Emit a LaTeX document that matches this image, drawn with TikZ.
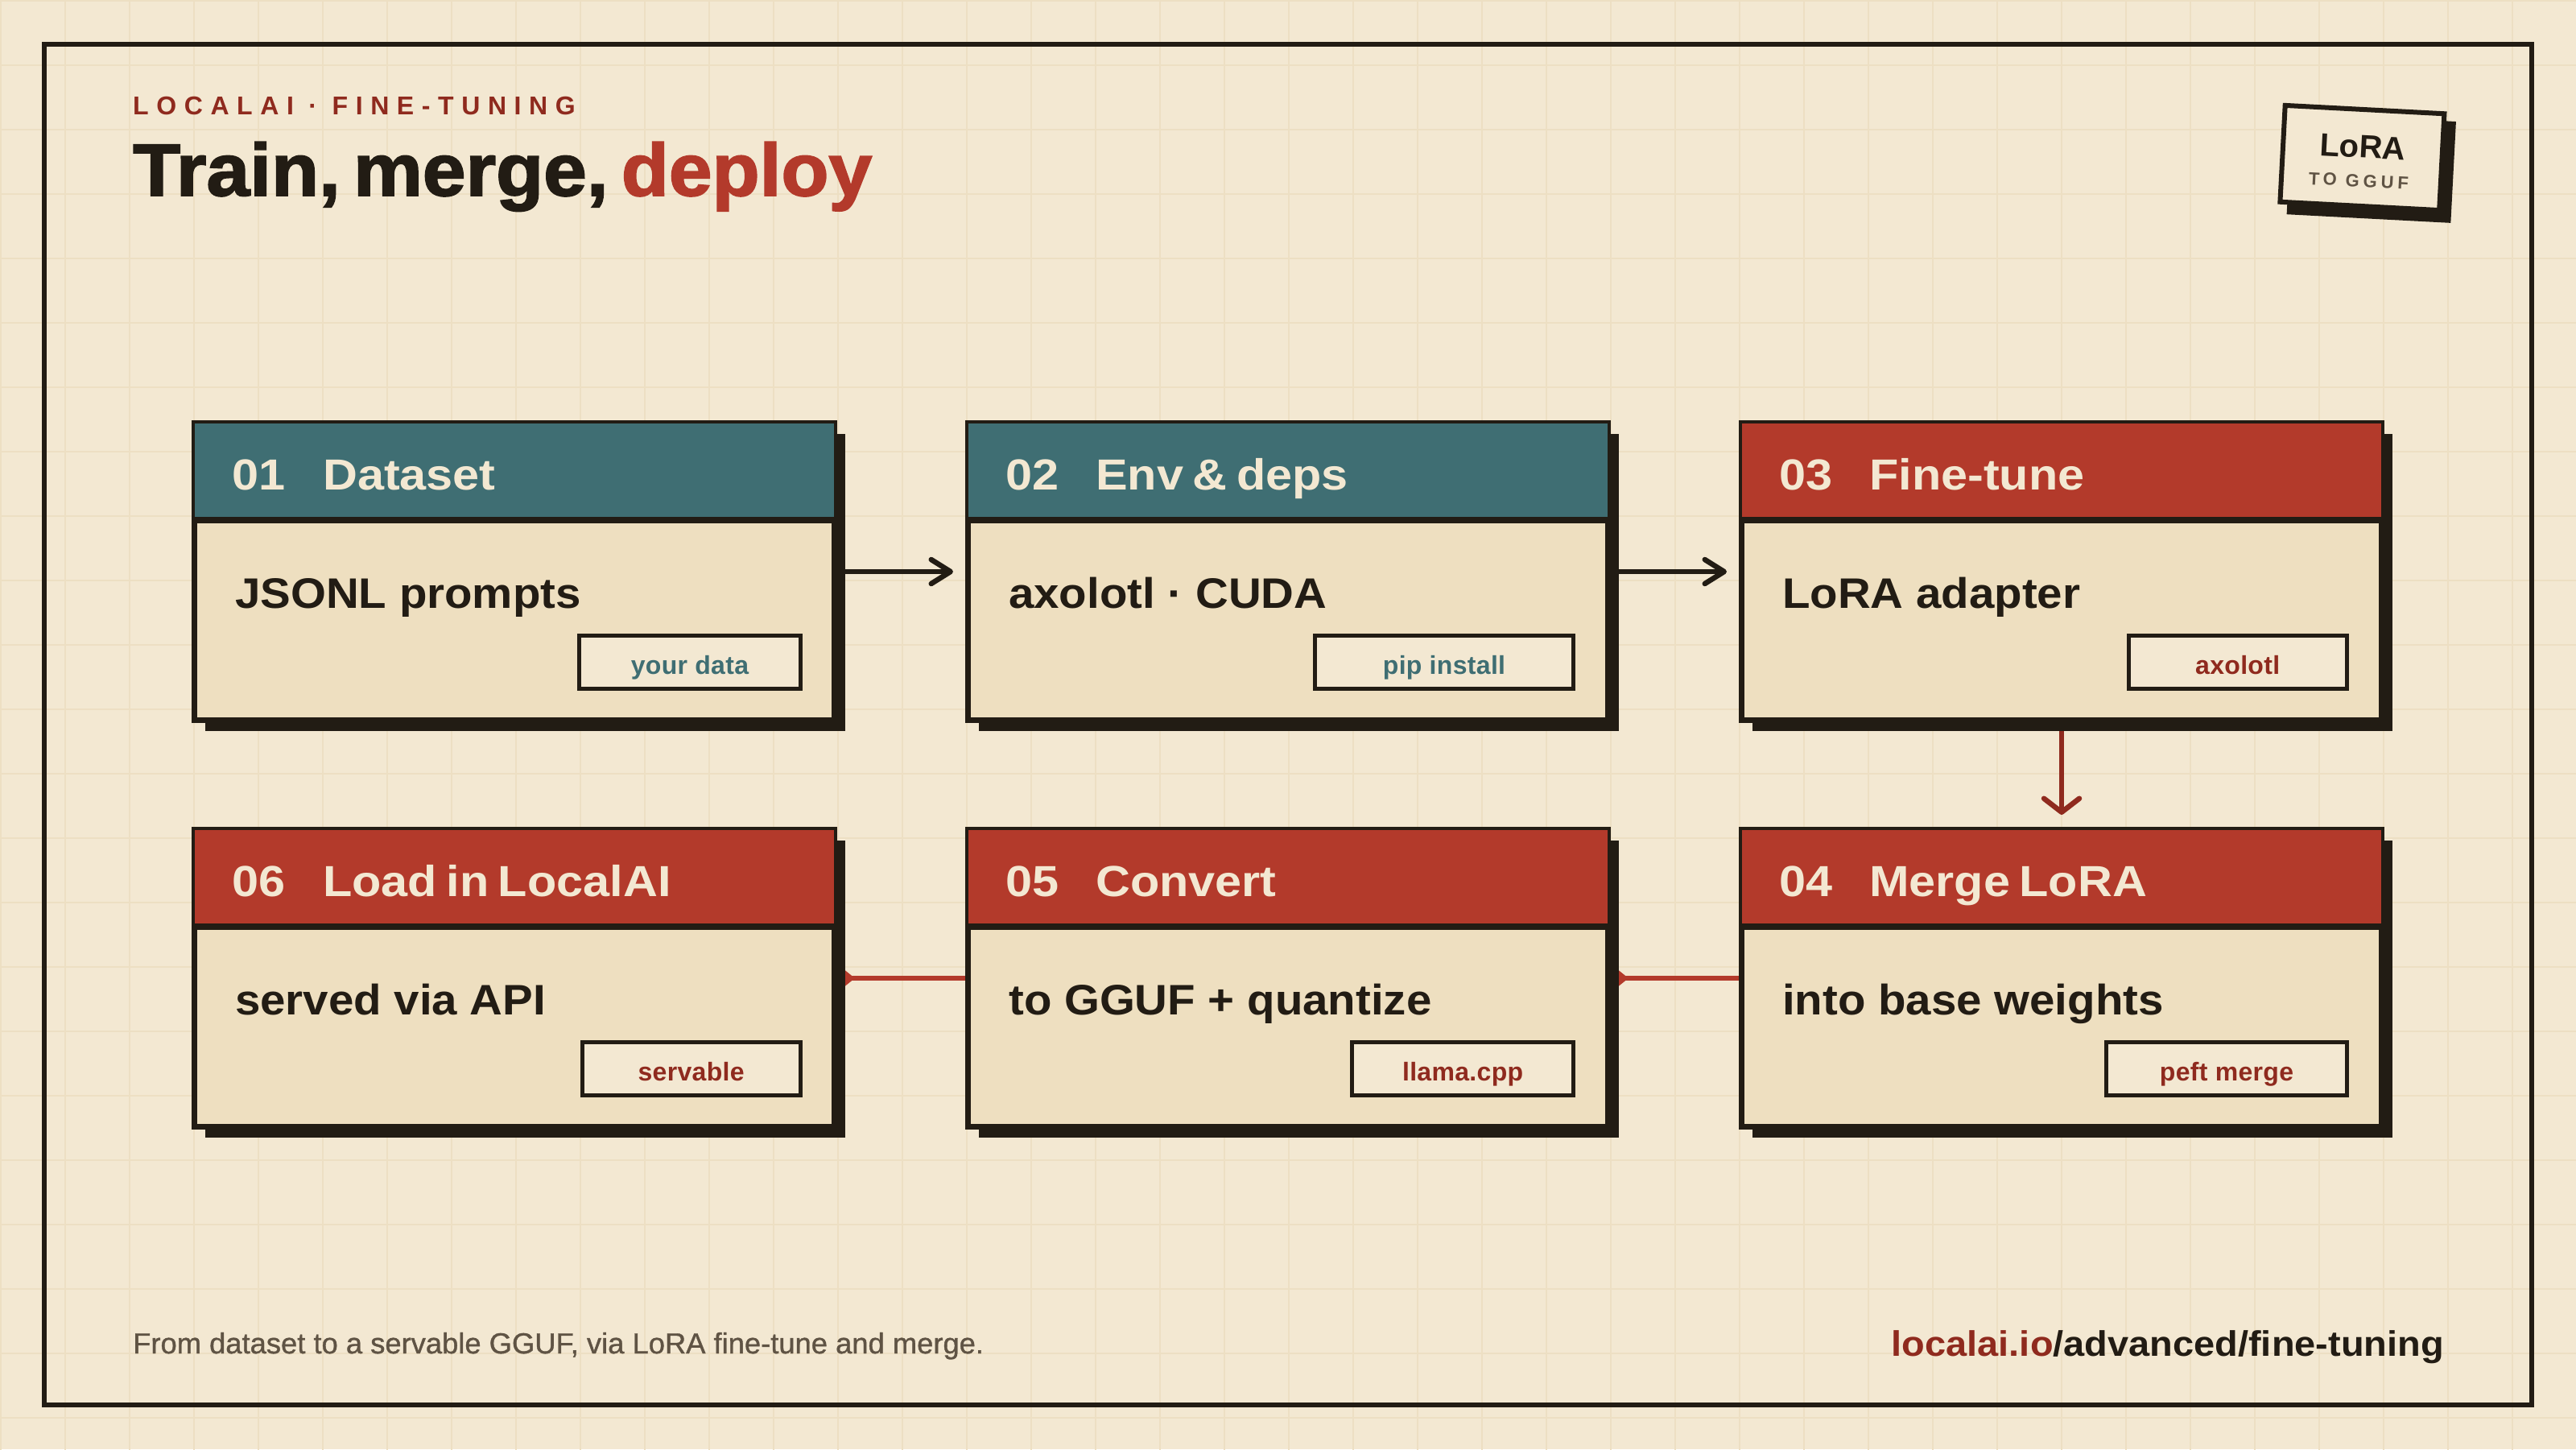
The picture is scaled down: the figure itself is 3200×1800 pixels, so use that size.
\documentclass[tikz,border=0pt]{standalone}
\usepackage{fontspec}
\setmainfont{Liberation Sans}
\newfontfamily\titlefont[FakeStretch=1.05,WordSpace=0.6,BoldFeatures={FakeBold=2}]{Liberation Sans}
\newfontfamily\kickerfont[LetterSpace=30]{Liberation Sans}
\newfontfamily\headfont[FakeStretch=1.1,WordSpace=0.7]{Liberation Sans}
\newfontfamily\bodyfont[FakeStretch=1.065]{Liberation Sans}
\newfontfamily\tagfont[LetterSpace=1]{Liberation Sans}
\newfontfamily\stampfont[LetterSpace=22]{Liberation Sans}
\newfontfamily\notefont[FakeBold=1,FakeStretch=1.01]{Liberation Sans}
\newfontfamily\linkfont[FakeStretch=1.067]{Liberation Sans}
\usetikzlibrary{arrows.meta}
\usetikzlibrary{backgrounds}

\definecolor{paper}{HTML}{F3E8D2}
\definecolor{gridtan}{HTML}{EDDFC3}
\definecolor{panel}{HTML}{EEDFC0}
\definecolor{ink}{HTML}{221C14}
\definecolor{teal}{HTML}{3F6E73}
\definecolor{brick}{HTML}{B33A2B}
\definecolor{oxblood}{HTML}{8F2A1E}
\definecolor{umber}{HTML}{5F5344}

\tikzset{
  txt/.style={inner sep=0pt, anchor=base west},
  shadow/.style={fill=ink, inner sep=0pt, outer sep=0pt, anchor=north west, minimum width=795pt, minimum height=369pt},
  card/.style={draw=ink, fill=panel, line width=7pt, inner sep=0pt, anchor=north west, minimum width=795pt, minimum height=369pt},
  head/.style={draw=ink, line width=4pt, inner sep=0pt, outer sep=0pt, anchor=north west, minimum width=798pt, minimum height=122pt},
  headrule/.style={ink, line width=8pt},
  headtxt/.style={txt, text=paper, font=\headfont\bfseries\fontsize{54}{60}\selectfont},
  bodytxt/.style={txt, text=ink, font=\bodyfont\bfseries\fontsize{53}{60}\selectfont},
  tag/.style={draw=ink, fill=paper, line width=5pt, inner sep=0pt, anchor=north east, minimum height=66pt, text height=30pt, text depth=0pt, font=\tagfont\bfseries\fontsize{32}{36}\selectfont},
  wire/.style={line width=6.5pt},
  darrow/.style={wire, ink, -{Straight Barb[length=24pt, width=30pt, round]}, shorten >=15pt},
  varrow/.style={wire, oxblood, -{Straight Barb[length=17pt, width=44pt, round]}, shorten >=15pt},
  back/.style={wire, brick, -{Triangle[reversed, length=22pt, width=34pt]}}
}

\begin{document}
\begin{tikzpicture}[x=1pt,y=-1pt]
\useasboundingbox (0,0) rectangle (3200,1800);

\begin{scope}[on background layer]
\fill[paper] (0,0) rectangle (3200,1800);
\draw[gridtan, line width=2pt, y=1pt, xstep=80, ystep=80, shift={(1pt,-1pt)}] (-1,1) grid (3200,-1800); % paper grid
\end{scope}

\draw[ink, line width=6pt] (55,55) rectangle (3145,1745); % outer frame

\node[txt, text=oxblood, font=\kickerfont\bfseries\fontsize{32}{36}\selectfont] (kicker) at (165,142) {LOCALAI · FINE-TUNING};
\node[txt, text=ink, font=\titlefont\bfseries\fontsize{92}{100}\selectfont] (title) at (165,243) {Train, merge, \textcolor{brick}{deploy}};

% stamp
\begin{scope}[shift={(2934.4,196)}, rotate=-3, transform shape]
\node[fill=ink, inner sep=0pt, minimum width=204pt, minimum height=126pt] (stampshadow) at (12,12) {};
\node[draw=ink, fill=paper, line width=6pt, inner sep=0pt, minimum width=198pt, minimum height=120pt] (stamp) at (0,0) {};
\node[inner sep=0pt, anchor=base, text=ink, font=\bfseries\fontsize{40}{44}\selectfont] (stampname) at (0,0) {LoRA};
\node[inner sep=0pt, anchor=base, text=umber, font=\stampfont\bfseries\fontsize{22}{26}\selectfont] (stampnote) at (-3,36.5) {TO GGUF};
\end{scope}

% top row
\node[shadow] (shadow1) at (255,539) {};
\node[card] (dataset) at (238,522) {};
\node[head, fill=teal] (head1) at (240,524) {};
\draw[headrule] (head1.south west) -- (head1.south east);
\node[headtxt] (num1) at (288,608) {01};
\node[headtxt] (name1) at (401,608) {Dataset};
\node[bodytxt] (body1) at (292,755) {JSONL prompts};
\node[tag, text=teal, minimum width=275pt] (tag1) at (997,787.3) {your data};

\node[shadow] (shadow2) at (1216,539) {};
\node[card] (envdeps) at (1199,522) {};
\node[head, fill=teal] (head2) at (1201,524) {};
\draw[headrule] (head2.south west) -- (head2.south east);
\node[headtxt] (num2) at (1249,608) {02};
\node[headtxt] (name2) at (1361,608) {Env \& deps};
\node[bodytxt] (body2) at (1253,755) {axolotl · CUDA};
\node[tag, text=teal, minimum width=321.6pt] (tag2) at (1957.3,787.3) {pip install};

\node[shadow] (shadow3) at (2177,539) {};
\node[card] (finetune) at (2160,522) {};
\node[head, fill=brick] (head3) at (2162,524) {};
\draw[headrule] (head3.south west) -- (head3.south east);
\node[headtxt] (num3) at (2210,608) {03};
\node[headtxt] (name3) at (2322,608) {Fine-tune};
\node[bodytxt] (body3) at (2214,755) {LoRA adapter};
\node[tag, text=oxblood, minimum width=271pt] (tag3) at (2917.7,787.3) {axolotl};

% bottom row
\node[shadow] (shadow6) at (255,1044) {};
\node[card] (loadapi) at (238,1027) {};
\node[head, fill=brick] (head6) at (240,1029) {};
\draw[headrule] (head6.south west) -- (head6.south east);
\node[headtxt] (num6) at (288,1113) {06};
\node[headtxt] (name6) at (401,1113) {Load in LocalAI};
\node[bodytxt] (body6) at (292,1260) {served via API};
\node[tag, text=oxblood, minimum width=271pt] (tag6) at (996.7,1291.7) {servable};

\node[shadow] (shadow5) at (1216,1044) {};
\node[card] (convert) at (1199,1027) {};
\node[head, fill=brick] (head5) at (1201,1029) {};
\draw[headrule] (head5.south west) -- (head5.south east);
\node[headtxt] (num5) at (1249,1113) {05};
\node[headtxt] (name5) at (1361,1113) {Convert};
\node[bodytxt] (body5) at (1253,1260) {to GGUF + quantize};
\node[tag, text=oxblood, minimum width=275.3pt] (tag5) at (1957.3,1291.7) {llama.cpp};

\node[shadow] (shadow4) at (2177,1044) {};
\node[card] (mergelora) at (2160,1027) {};
\node[head, fill=brick] (head4) at (2162,1029) {};
\draw[headrule] (head4.south west) -- (head4.south east);
\node[headtxt] (num4) at (2210,1113) {04};
\node[headtxt] (name4) at (2322,1113) {Merge LoRA};
\node[bodytxt] (body4) at (2214,1260) {into base weights};
\node[tag, text=oxblood, minimum width=298.4pt] (tag4) at (2917.7,1291.7) {peft merge};

% connectors go under the shadows
\begin{scope}[on background layer]
\draw[darrow] (dataset.east) -- (envdeps.west);
\draw[darrow] (envdeps.east) -- (finetune.west);
\draw[varrow] (finetune.south) -- (mergelora.north);
\draw[back] (mergelora.west) -- (convert.east);
\draw[back] (convert.west) -- (loadapi.east);
\end{scope}

% footer
\node[txt, text=umber, font=\notefont\fontsize{36}{40}\selectfont] (footnote) at (165,1681) {From dataset to a servable GGUF, via LoRA fine-tune and merge.};
\node[inner sep=0pt, anchor=base east, text=ink, font=\linkfont\bfseries\fontsize{44}{48}\selectfont] (footlink) at (3036,1684) {\textcolor{oxblood}{localai.io}/advanced/fine-tuning};

\end{tikzpicture}
\end{document}
